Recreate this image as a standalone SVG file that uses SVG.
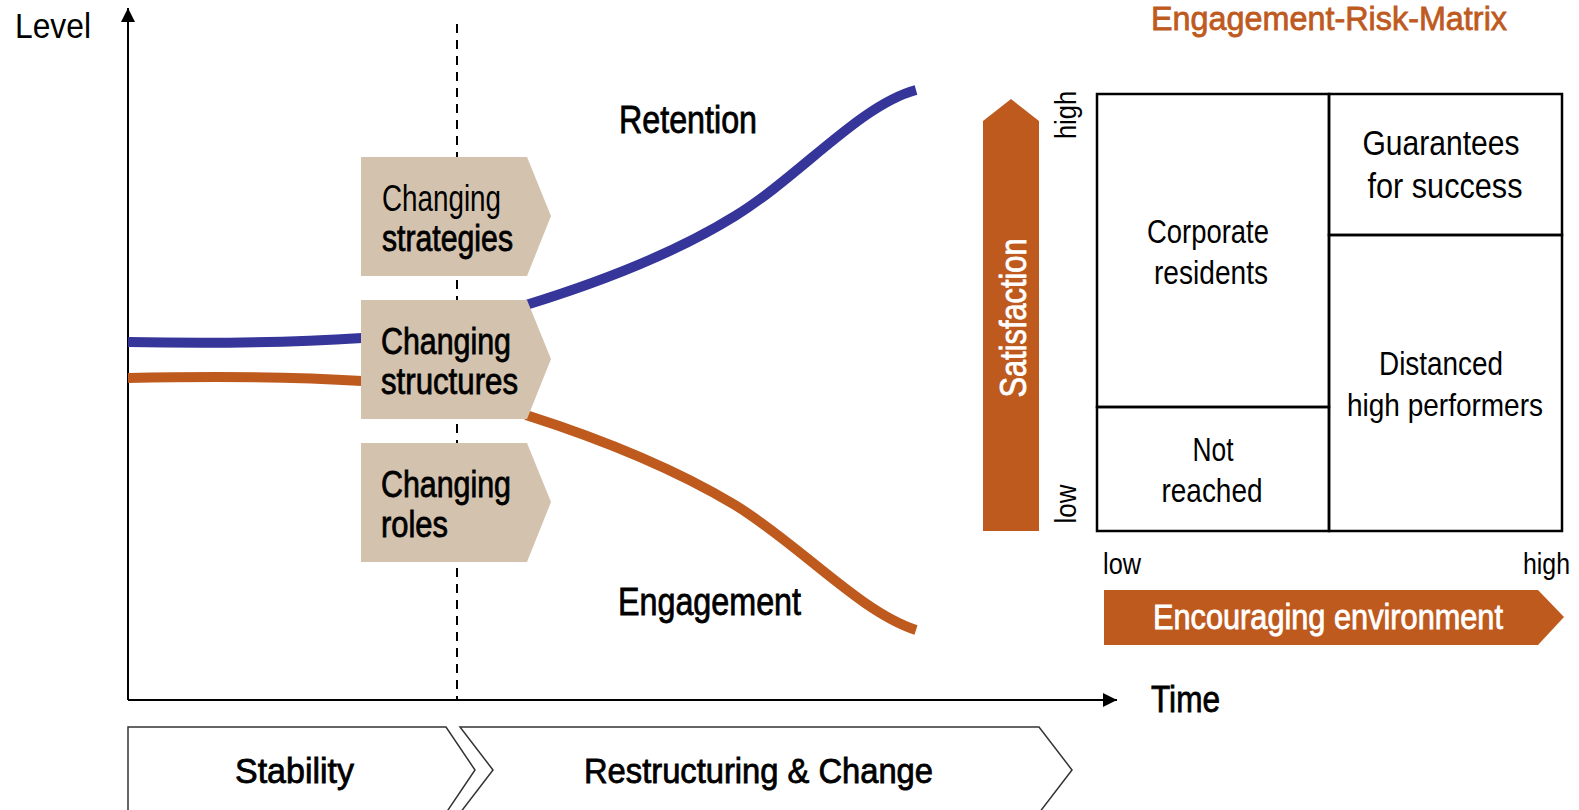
<svg xmlns="http://www.w3.org/2000/svg" width="1579" height="810" viewBox="0 0 1579 810">
<defs>
<style>
text{font-family:"Liberation Sans",Arial,sans-serif;fill:#000}
.semi{stroke:#000;stroke-width:0.8}
.ws{fill:#fff;stroke:#fff;stroke-width:0.8}
.box{fill:#D3C2AD}
.org{fill:#BE5A1E}
.cell{fill:none;stroke:#000;stroke-width:2.5}
.chev{fill:#fff;stroke:#333;stroke-width:1.5}
</style>
<marker id="ah" viewBox="0 0 10 10" refX="10" refY="5" markerWidth="15" markerHeight="14" markerUnits="userSpaceOnUse" orient="auto"><path d="M0,0 L10,5 L0,10 z" fill="#000"/></marker>
</defs>
<rect width="1579" height="810" fill="#fff"/>

<g id="connectors">
<line x1="128" y1="700" x2="128" y2="8" stroke="#000" stroke-width="2" marker-end="url(#ah)"/>
<line x1="128" y1="700" x2="1117" y2="700" stroke="#000" stroke-width="2" marker-end="url(#ah)"/>
<line x1="457" y1="24" x2="457" y2="700" stroke="#000" stroke-width="2" stroke-dasharray="9,7"/>
<path d="M128,342 C220,344 300,342 362,338" fill="none" stroke="#35359A" stroke-width="10"/>
<path d="M526,305 C620,276 690,244 735,216 C800,176 860,105 916,90" fill="none" stroke="#35359A" stroke-width="10"/>
<path d="M128,378 C220,376 300,377 362,381" fill="none" stroke="#BE5A1E" stroke-width="10"/>
<path d="M526,415 C620,445 690,478 735,505 C800,545 860,612 916,630" fill="none" stroke="#BE5A1E" stroke-width="10"/>
</g>

<g id="axis-labels">
<text x="15" y="38" font-size="35" textLength="76" lengthAdjust="spacingAndGlyphs">Level</text>
<text x="1151" y="712" font-size="37" class="semi" textLength="69" lengthAdjust="spacingAndGlyphs">Time</text>
<text x="619" y="133" font-size="38" class="semi" textLength="138" lengthAdjust="spacingAndGlyphs">Retention</text>
<text x="618" y="615" font-size="38" class="semi" textLength="183" lengthAdjust="spacingAndGlyphs">Engagement</text>
</g>

<g id="node-strategies">
<polygon class="box" points="361,157 527,157 551,216 527,276 361,276"/>
<text x="382" y="211" font-size="36" textLength="119" lengthAdjust="spacingAndGlyphs">Changing</text>
<text x="382" y="251" font-size="36" class="semi" textLength="131" lengthAdjust="spacingAndGlyphs">strategies</text>
</g>
<g id="node-structures">
<polygon class="box" points="361,300 527,300 551,359 527,419 361,419"/>
<text x="381" y="354" font-size="36" class="semi" textLength="130" lengthAdjust="spacingAndGlyphs">Changing</text>
<text x="381" y="394" font-size="36" class="semi" textLength="137" lengthAdjust="spacingAndGlyphs">structures</text>
</g>
<g id="node-roles">
<polygon class="box" points="361,443 527,443 551,502 527,562 361,562"/>
<text x="381" y="497" font-size="36" class="semi" textLength="130" lengthAdjust="spacingAndGlyphs">Changing</text>
<text x="381" y="537" font-size="36" class="semi" textLength="67" lengthAdjust="spacingAndGlyphs">roles</text>
</g>

<g id="node-stability">
<polygon class="chev" points="128,727 446,727 475,770 446,813 128,813"/>
<text x="235" y="783" font-size="35" class="semi" textLength="119" lengthAdjust="spacingAndGlyphs">Stability</text>
</g>
<g id="node-restructuring">
<polygon class="chev" points="460,727 1039,727 1072,770 1039,813 460,813 493,770"/>
<text x="584" y="783" font-size="35" class="semi" textLength="349" lengthAdjust="spacingAndGlyphs">Restructuring &amp; Change</text>
</g>

<g id="node-title">
<text x="1151" y="30" font-size="34" class="semi" style="fill:#BE5A1E;stroke:#BE5A1E" textLength="356" lengthAdjust="spacingAndGlyphs">Engagement-Risk-Matrix</text>
</g>

<g id="node-satisfaction">
<polygon class="org" points="983,121 1011,99 1039,121 1039,531 983,531"/>
<text transform="translate(1026,318) rotate(-90)" font-size="36" text-anchor="middle" class="ws" textLength="159" lengthAdjust="spacingAndGlyphs">Satisfaction</text>
<text transform="translate(1076,115) rotate(-90)" font-size="29" text-anchor="middle" textLength="48" lengthAdjust="spacingAndGlyphs">high</text>
<text transform="translate(1076,504) rotate(-90)" font-size="29" text-anchor="middle" textLength="39" lengthAdjust="spacingAndGlyphs">low</text>
</g>

<g id="node-matrix">
<rect class="cell" x="1097" y="94" width="232" height="313"/>
<rect class="cell" x="1097" y="407" width="232" height="124"/>
<rect class="cell" x="1329" y="94" width="233" height="141"/>
<rect class="cell" x="1329" y="235" width="233" height="296"/>
<text x="1208" y="243" font-size="34" text-anchor="middle" textLength="122" lengthAdjust="spacingAndGlyphs">Corporate</text>
<text x="1211" y="284" font-size="34" text-anchor="middle" textLength="114" lengthAdjust="spacingAndGlyphs">residents</text>
<text x="1213" y="461" font-size="34" text-anchor="middle" textLength="41" lengthAdjust="spacingAndGlyphs">Not</text>
<text x="1212" y="502" font-size="34" text-anchor="middle" textLength="101" lengthAdjust="spacingAndGlyphs">reached</text>
<text x="1441" y="155" font-size="35" text-anchor="middle" textLength="157" lengthAdjust="spacingAndGlyphs">Guarantees</text>
<text x="1445" y="198" font-size="35" text-anchor="middle" textLength="155" lengthAdjust="spacingAndGlyphs">for success</text>
<text x="1441" y="375" font-size="34" text-anchor="middle" textLength="124" lengthAdjust="spacingAndGlyphs">Distanced</text>
<text x="1445" y="416" font-size="32" text-anchor="middle" textLength="196" lengthAdjust="spacingAndGlyphs">high performers</text>
</g>

<g id="node-encouraging">
<text x="1103" y="574" font-size="29" textLength="38" lengthAdjust="spacingAndGlyphs">low</text>
<text x="1523" y="574" font-size="29" textLength="47" lengthAdjust="spacingAndGlyphs">high</text>
<polygon class="org" points="1104,590 1538,590 1564,617 1538,645 1104,645"/>
<text x="1153" y="629" font-size="35" class="ws" textLength="350" lengthAdjust="spacingAndGlyphs">Encouraging environment</text>
</g>
</svg>
